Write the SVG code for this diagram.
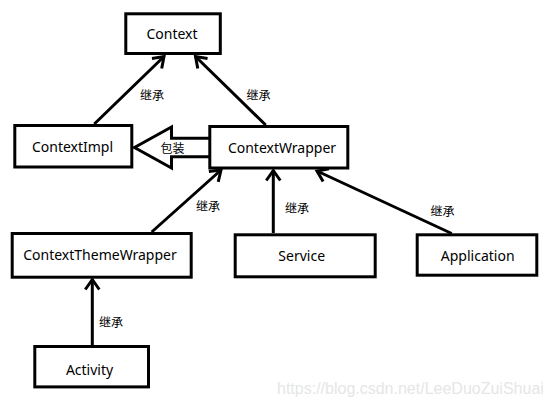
<svg xmlns="http://www.w3.org/2000/svg" width="552" height="404" viewBox="0 0 552 404">
<style>
.box{fill:#fff;stroke:#000;stroke-width:3}
.t{font-family:"Noto Sans","Liberation Sans",sans-serif;font-size:14px;fill:#000;text-anchor:middle}
.l{font-family:"Noto Sans CJK SC","Noto Sans",sans-serif;font-size:12px;fill:#000;text-anchor:middle}
.c{stroke:#000;stroke-width:3;fill:none}
.wm{font-family:"Liberation Sans",Arial,sans-serif;font-size:16px;fill:#e6e6e6}
</style>
<defs>
<marker id="arr" markerUnits="userSpaceOnUse" markerWidth="20" markerHeight="20" viewBox="-12 -10 16 20" refX="0" refY="0" orient="auto">
<path d="M-10,-7 L0,0 L-10,7" fill="none" stroke="#000" stroke-width="3"/>
</marker>
</defs>
<rect width="552" height="404" fill="#fff"/>
<g id="connectors">
<line class="c" x1="94.3" y1="124" x2="164" y2="56.5" marker-end="url(#arr)"/>
<line class="c" x1="265.7" y1="125" x2="195.5" y2="56.5" marker-end="url(#arr)"/>
<line class="c" x1="151.7" y1="232" x2="221" y2="170" marker-end="url(#arr)"/>
<line class="c" x1="273.3" y1="233" x2="273.3" y2="170.5" marker-end="url(#arr)"/>
<line class="c" x1="451.7" y1="233.5" x2="317" y2="171" marker-end="url(#arr)"/>
<line class="c" x1="92.3" y1="345" x2="92.3" y2="279.5" marker-end="url(#arr)"/>
<path class="c" d="M209,138.3 H171.5 V127 L134.5,147.5 L171.5,168 V156.7 H209" fill="#fff"/>
<text class="l" x="152" y="99.5">继承</text>
<text class="l" x="258.5" y="99.5">继承</text>
<text class="l" x="172.5" y="152.5">包装</text>
<text class="l" x="208" y="210.5">继承</text>
<text class="l" x="297" y="212.5">继承</text>
<text class="l" x="442.5" y="216">继承</text>
<text class="l" x="111" y="326.5">继承</text>
</g>
<g id="Context"><rect class="box" x="125.8" y="13.8" width="94.5" height="39.7"/><text class="t" x="172" y="39">Context</text></g>
<g id="ContextImpl"><rect class="box" x="14.8" y="125.5" width="117" height="41.5"/><text class="t" x="72.5" y="151.5">ContextImpl</text></g>
<g id="ContextWrapper"><rect class="box" x="209.8" y="126.5" width="138" height="41.5"/><text class="t" x="282" y="153">ContextWrapper</text></g>
<g id="ContextThemeWrapper"><rect class="box" x="12.2" y="233.5" width="179" height="43.7"/><text class="t" x="100" y="260">ContextThemeWrapper</text></g>
<g id="Service"><rect class="box" x="235.2" y="234.8" width="140" height="42"/><text class="t" x="301.7" y="261">Service</text></g>
<g id="Application"><rect class="box" x="417.2" y="234.8" width="119.6" height="40.4"/><text class="t" x="477.7" y="261">Application</text></g>
<g id="Activity"><rect class="box" x="34.8" y="346.5" width="113.7" height="40.4"/><text class="t" x="89.5" y="375">Activity</text></g>
<text class="wm" x="277" y="393.5">https://blog.csdn.net/LeeDuoZuiShuai</text>
</svg>
